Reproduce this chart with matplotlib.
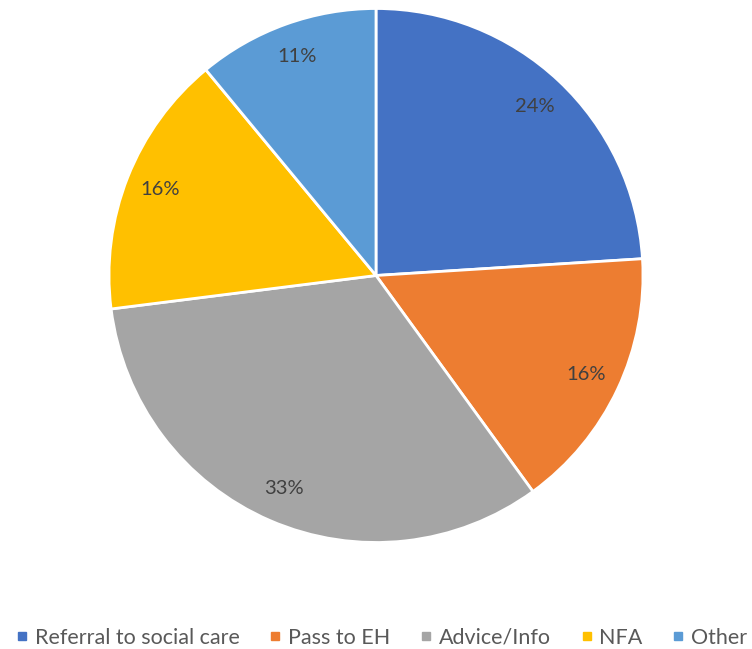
import matplotlib.pyplot as plt
from matplotlib.lines import Line2D

categories = ['Referral to social care', 'Pass to EH', 'Advice/Info', 'NFA', 'Other']
shares = [24, 16, 33, 16, 11]
colors = ['#4472C4', '#ED7D31', '#A5A5A5', '#FFC000', '#5B9BD5']

plt.rcParams['font.family'] = ['Lato', 'DejaVu Sans']

W, H = 752, 649
fig = plt.figure(figsize=(W / 100, H / 100), dpi=100)
cx, cy, r = 376, 275.5, 267
ax = fig.add_axes([(cx - r) / W, (H - cy - r) / H, 2 * r / W, 2 * r / H])

wedges, texts, autotexts = ax.pie(
    shares, colors=colors, startangle=90, counterclock=False,
    autopct='%1.0f%%', pctdistance=0.87, radius=1,
    wedgeprops=dict(edgecolor='white', linewidth=2),
    textprops=dict(color='#404040', fontsize=14.5))
ax.set_xlim(-1, 1)
ax.set_ylim(-1, 1)
ax.set_aspect('equal')
ax.axis('off')

handles = [Line2D([], [], marker='s', linestyle='', markersize=6,
                  markerfacecolor=c, markeredgecolor=c) for c in colors]
fig.legend(handles, categories, loc='center',
           bbox_to_anchor=(0.5 + 6 / W, 1 - 638 / H),
           ncol=5, frameon=False, fontsize=15.5, handlelength=0.5,
           handletextpad=0.35, columnspacing=1.4, labelcolor='#595959')

fig.savefig('out.png', dpi=100)
